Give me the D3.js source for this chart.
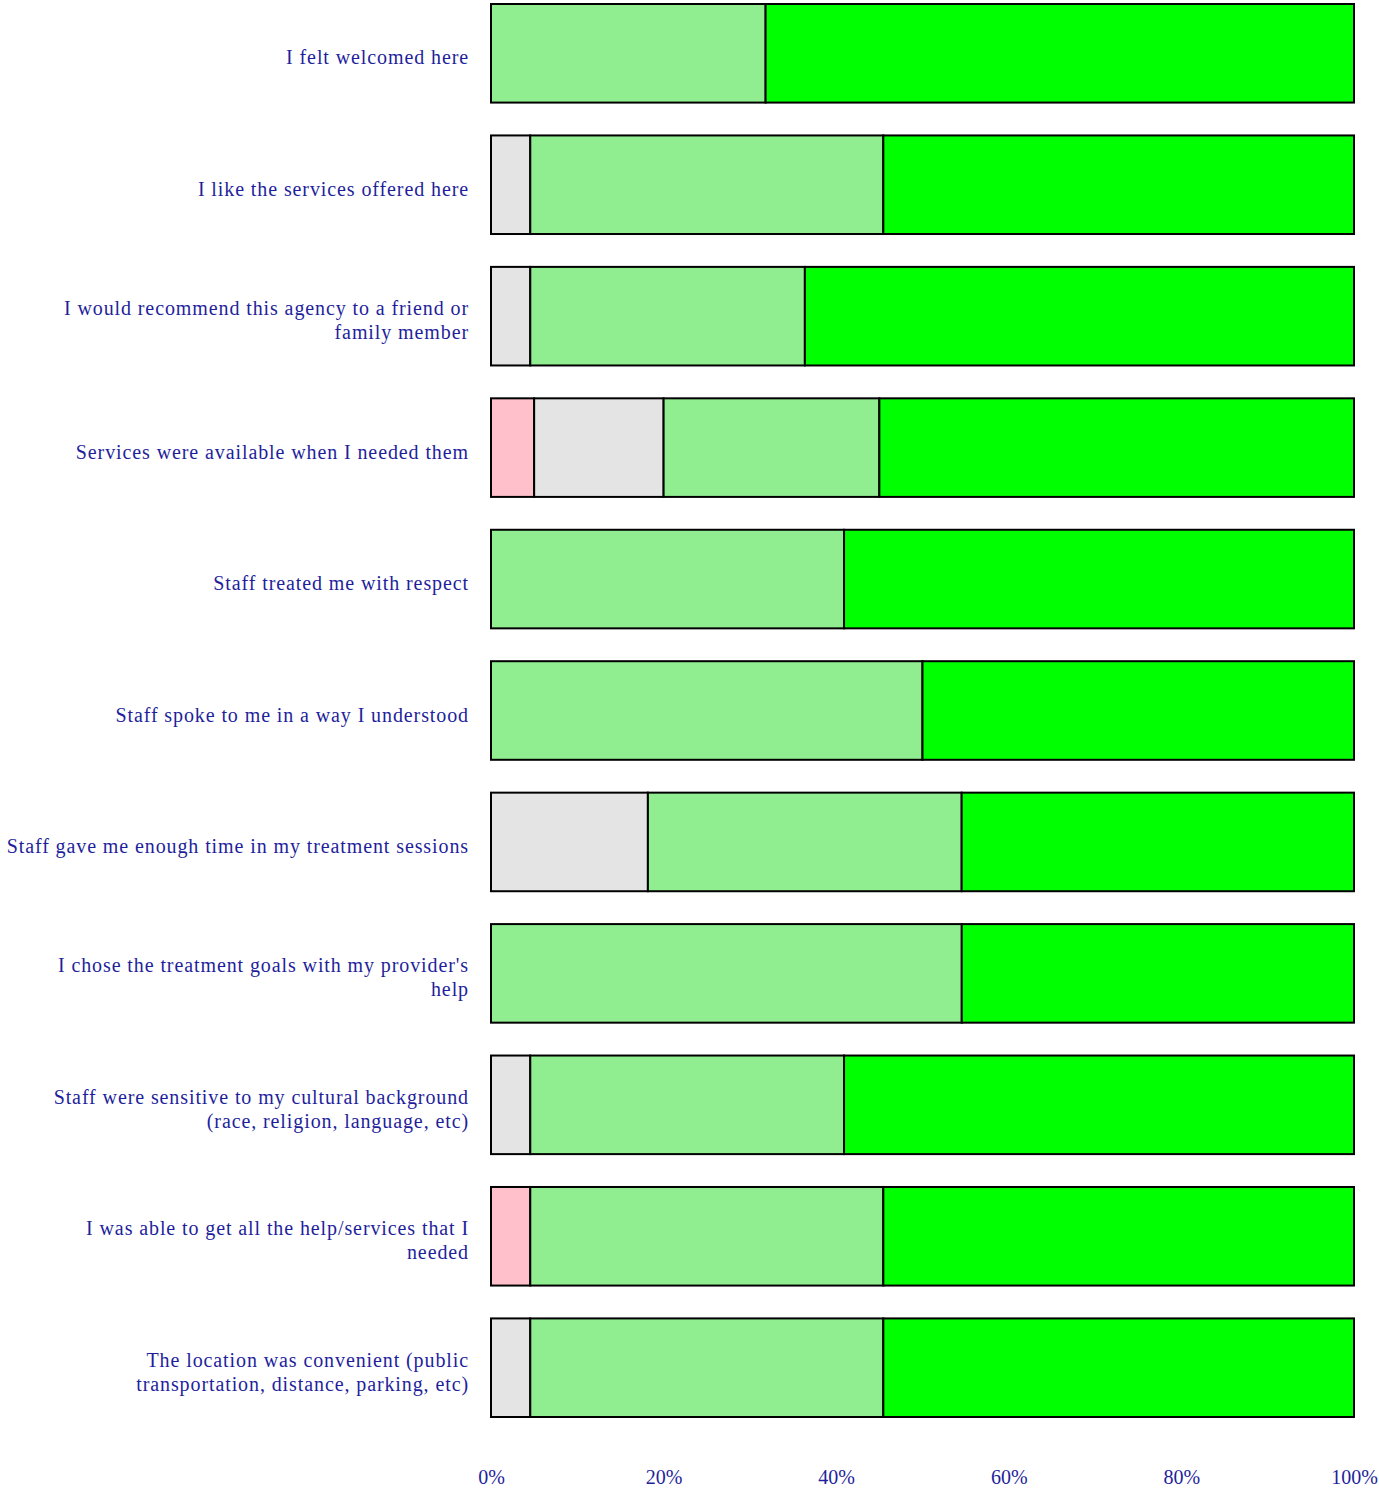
<!DOCTYPE html>
<html>
<head>
<meta charset="utf-8">
<script src="https://cdn.jsdelivr.net/npm/d3@7"></script>
<style>
  html, body { margin: 0; padding: 0; background: #ffffff; }
  svg { display: block; }
  text { font-family: "Liberation Serif", "Times New Roman", serif; fill: #1f1f9c; }
</style>
</head>
<body>
<div id="chart"></div>
<script>
// ---- Data ----
const categories = [
  "I felt welcomed here",
  "I like the services offered here",
  "I would recommend this agency to a friend or family member",
  "Services were available when I needed them",
  "Staff treated me with respect",
  "Staff spoke to me in a way I understood",
  "Staff gave me enough time in my treatment sessions",
  "I chose the treatment goals with my provider's help",
  "Staff were sensitive to my cultural background (race, religion, language, etc)",
  "I was able to get all the help/services that I needed",
  "The location was convenient (public transportation, distance, parking, etc)"
];
const labelLines = [
  ["I felt welcomed here"],
  ["I like the services offered here"],
  ["I would recommend this agency to a friend or", "family member"],
  ["Services were available when I needed them"],
  ["Staff treated me with respect"],
  ["Staff spoke to me in a way I understood"],
  ["Staff gave me enough time in my treatment sessions"],
  ["I chose the treatment goals with my provider's", "help"],
  ["Staff were sensitive to my cultural background", "(race, religion, language, etc)"],
  ["I was able to get all the help/services that I", "needed"],
  ["The location was convenient (public", "transportation, distance, parking, etc)"]
];
const seriesNames = ["Disagree", "Neutral", "Agree", "Strongly Agree"];
const disagree      = [0,     0,     0,     5,  0,     0,  0,     0,     0,     4.55,  0];
const neutral       = [0,     4.55,  4.55,  15, 0,     0,  18.18, 0,     4.55,  0,     4.55];
const agree         = [31.82, 40.91, 31.82, 25, 40.91, 50, 36.36, 54.55, 36.36, 40.91, 40.91];
const stronglyAgree = [68.18, 54.54, 63.63, 55, 59.09, 50, 45.46, 45.45, 59.09, 54.54, 54.54];
const seriesColors = ["#ffc0cb", "#e4e4e4", "#90ee90", "#00ff00"];
const tickValues = [0, 20, 40, 60, 80, 100];
const tickLabels = ["0%", "20%", "40%", "60%", "80%", "100%"];

// ---- Layout ----
const W = 1379, H = 1491;
const svg = d3.select("#chart").append("svg").attr("width", W).attr("height", H);

const x = d3.scaleLinear().domain([0, 100]).range([491, 1354]);
const y = d3.scaleBand().domain(categories).range([4, 1417]).paddingInner(0.25).paddingOuter(0);

const rows = categories.map((c, i) => ({ c, vals: [disagree[i], neutral[i], agree[i], stronglyAgree[i]] }));
const stacked = d3.stack().keys([0, 1, 2, 3]).value((d, k) => d.vals[k])(rows);

stacked.forEach((layer, k) => {
  svg.append("g").selectAll("rect")
    .data(layer.filter(d => d[1] - d[0] > 0))
    .join("rect")
    .attr("x", d => x(d[0]))
    .attr("y", d => y(d.data.c))
    .attr("width", d => x(d[1]) - x(d[0]))
    .attr("height", y.bandwidth())
    .attr("fill", seriesColors[k])
    .attr("stroke", "#000")
    .attr("stroke-width", 2);
});

// Category labels
const lg = svg.append("g");
categories.forEach((c, i) => {
  const lines = labelLines[i];
  const cy = y(c) + y.bandwidth() / 2;
  const lh = 24;
  const start = cy + 11 - (lines.length - 1) * lh / 2;
  const t = lg.append("text").attr("text-anchor", "end").attr("font-size", 20)
    .attr("letter-spacing", "0.9px");
  lines.forEach((ln, j) => {
    t.append("tspan").attr("x", 469).attr("y", start + j * lh).text(ln);
  });
});

// X axis
const axis = d3.axisBottom(x).tickValues(tickValues).tickFormat((d, i) => tickLabels[i]).tickSize(0).tickPadding(0);
const ag = svg.append("g").attr("transform", "translate(0,1470)").call(axis);
ag.select(".domain").remove();
ag.selectAll("text").attr("font-size", 20).attr("fill", "#1f1f9c").attr("font-family", "Liberation Serif, serif");
</script>
</body>
</html>
